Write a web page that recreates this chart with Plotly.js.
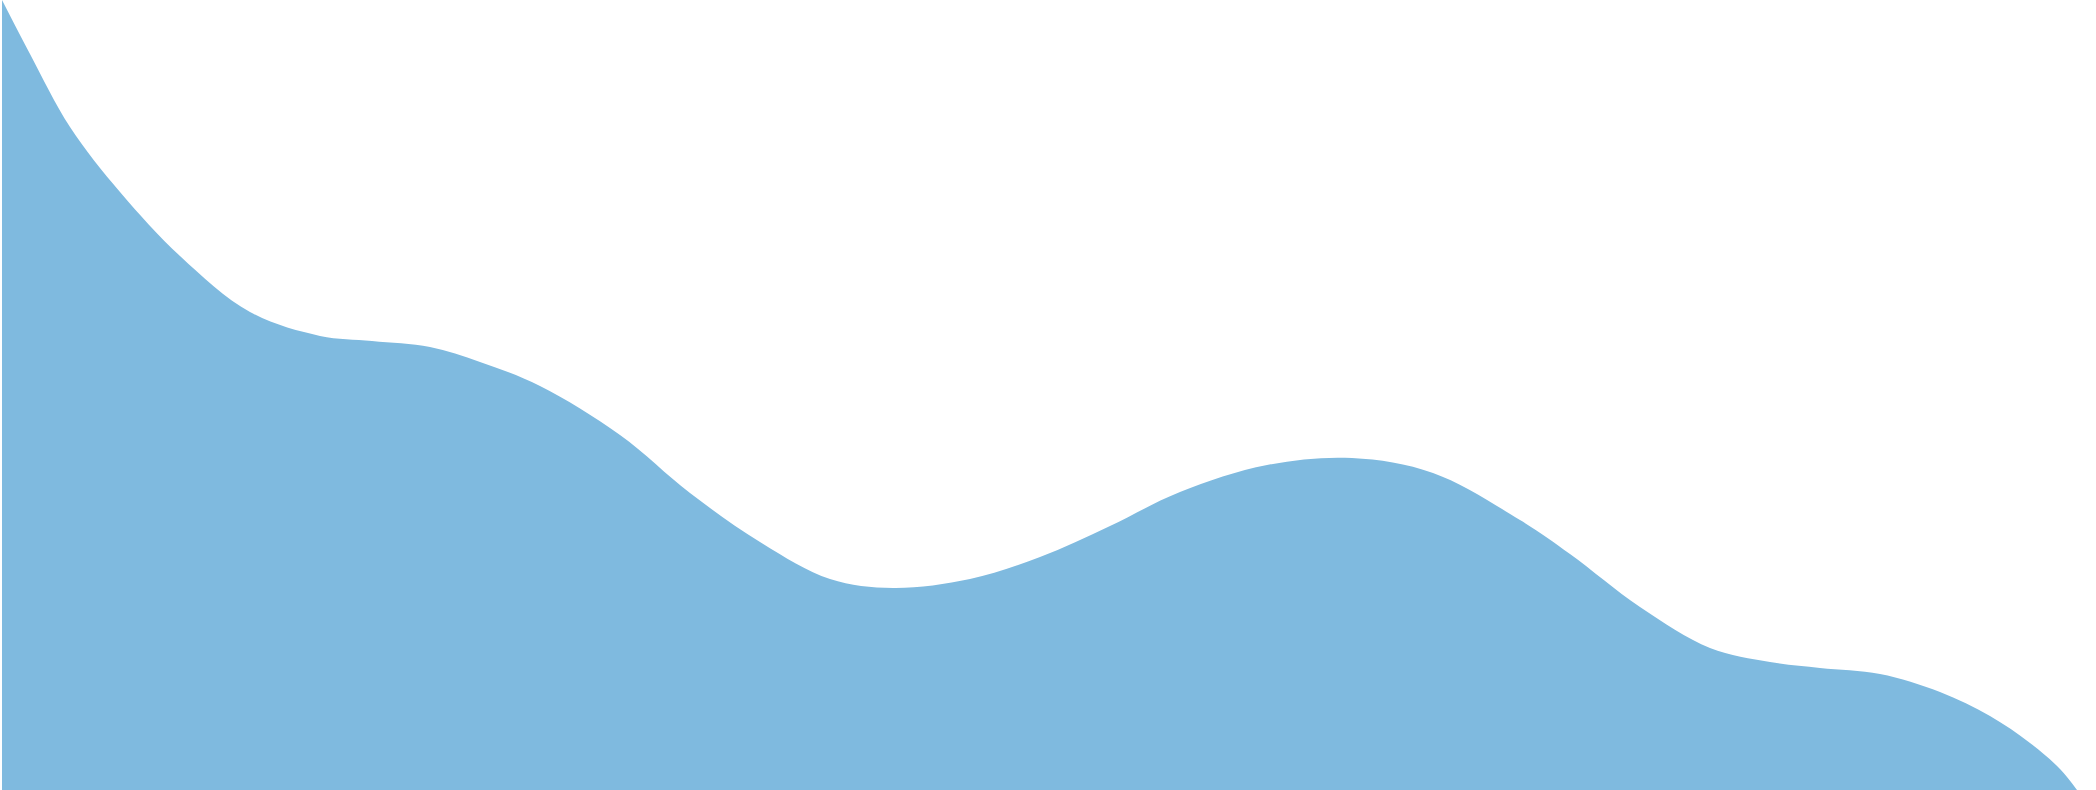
<!DOCTYPE html>
<html>
<head>
<meta charset="utf-8">
<script src="https://cdn.plot.ly/plotly-3.0.1.min.js"></script>
<style>
  html, body { margin: 0; padding: 0; background: #ffffff; overflow: hidden; }
  #wave { width: 2096px; height: 790px; }
</style>
</head>
<body>
<div id="wave"></div>
<script>
// profile of the wave (x along the width, height above the bottom edge)
var xVals = [2, 30, 70, 120, 180, 250, 320, 372,
  430, 480, 540, 620, 690, 760, 830, 893,
  970, 1040, 1110, 1180, 1267, 1352,
  1433, 1520, 1570, 1640, 1710, 1770, 1820,
  1880, 1940, 1990, 2030, 2060, 2077];
var heightVals = [790, 736, 663, 598, 534, 478, 454, 449,
  443, 428, 404, 355, 297, 248, 211, 202,
  211, 233, 264, 298, 325, 332,
  317, 270, 236, 183, 142, 128, 122,
  116, 98, 74, 47, 21, 0];

var fillColor = "#7fbadf";

(function () {
  var trace = {
    type: "scatter",
    mode: "lines",
    x: xVals,
    y: heightVals,
    fill: "tozeroy",
    fillcolor: fillColor,
    line: { color: fillColor, width: 0, shape: "spline", smoothing: 1 },
    hoverinfo: "skip",
    showlegend: false,
  };

  var hidden = {
    visible: false,
    showgrid: false,
    zeroline: false,
    showticklabels: false,
    fixedrange: true,
  };

  Plotly.newPlot(
    "wave",
    [trace],
    {
      width: 2096,
      height: 790,
      margin: { l: 0, r: 0, t: 0, b: 0, pad: 0 },
      paper_bgcolor: "#ffffff",
      plot_bgcolor: "#ffffff",
      xaxis: Object.assign({ range: [0, 2096] }, hidden),
      yaxis: Object.assign({ range: [0, 790] }, hidden),
      showlegend: false,
    },
    { displayModeBar: false, staticPlot: true }
  );
})();
</script>
</body>
</html>
